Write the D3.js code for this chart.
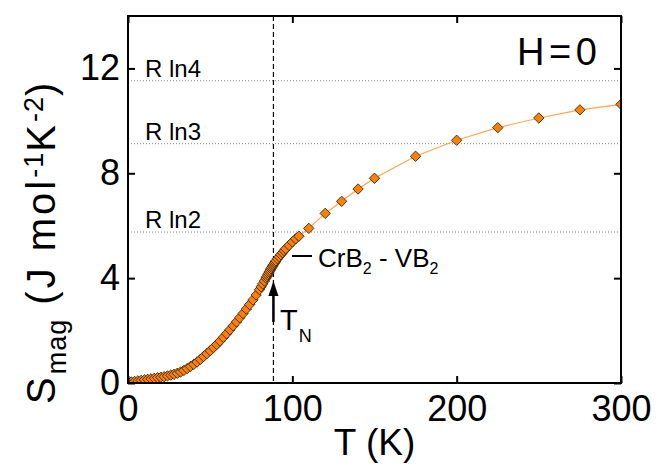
<!DOCTYPE html>
<html>
<head>
<meta charset="utf-8">
<script src="https://cdn.jsdelivr.net/npm/d3@7"></script>
<style>
body { margin: 0; background: #fff; }
text { font-family: "Liberation Sans", Arial, Helvetica, sans-serif; fill: #000; }
</style>
</head>
<body>
<div id="chart"></div>
<script>
// CrB2-VB2 magnetic entropy, H = 0
const temps = [2,4,6,8,10,12,14,16,18,20,22,24,26,28,30,32,34,36,38,40,
    42,44,46,48,50,52,54,56,58,60,62,64,66,68,70,72,74,76,78,80,
    81,82,83,84,84.5,85,85.5,86,86.5,87,87.5,88,88.5,89,89.5,90,
    91,92,93,94,95,96,98,100,102,104,
    110,120,130,140,150,175,200,225,250,275,300];
const smag = [0.04,0.06,0.08,0.1,0.12,0.14,0.16,0.18,0.2,0.22,
    0.24,0.27,0.3,0.33,0.37,0.42,0.48,0.55,0.63,0.71,
    0.8,0.9,1.01,1.12,1.23,1.35,1.47,1.6,1.74,1.88,
    2.03,2.18,2.33,2.49,2.65,2.82,2.99,3.17,3.36,3.56,
    3.67,3.78,3.89,4.0,4.06,4.12,4.18,4.24,4.3,4.36,4.41,4.46,4.51,4.56,4.61,4.66,
    4.74,4.82,4.9,4.97,5.05,5.12,5.25,5.38,5.5,5.6,
    5.9,6.47,6.93,7.4,7.81,8.65,9.26,9.74,10.11,10.42,10.63];
const xTicks = [0, 100, 200, 300];
const yTicks = [0, 4, 8, 12];
const refLabels = ["R ln2", "R ln3", "R ln4"];
const refValues = [5.76, 9.13, 11.53];
const tN = 88.5;

const width = 664, height = 472;
const x0 = 128, x1 = 621, y0 = 383, y1 = 16;

const svg = d3.select("#chart").append("svg")
    .attr("width", width)
    .attr("height", height);

const x = d3.scaleLinear().domain([0, 300]).range([x0, x1]);
const y = d3.scaleLinear().domain([0, 14]).range([y0, y1]);

svg.append("clipPath").attr("id", "plotclip")
  .append("rect")
    .attr("x", x0).attr("y", y1)
    .attr("width", x1 - x0).attr("height", y0 - y1);

// reference levels
svg.selectAll(".ref")
    .data(refValues)
    .enter().append("line")
    .attr("x1", x0).attr("x2", x1)
    .attr("y1", d => y(d)).attr("y2", d => y(d))
    .attr("stroke", "#888")
    .attr("stroke-width", 1)
    .attr("stroke-dasharray", "1,2");

svg.selectAll(".reflabel")
    .data(refLabels)
    .enter().append("text")
    .attr("x", 145)
    .attr("y", (d, i) => y(refValues[i]) - 4)
    .attr("font-size", 24)
    .text(d => d);

// TN dashed line
svg.append("line")
    .attr("x1", x(tN)).attr("x2", x(tN))
    .attr("y1", y1).attr("y2", y0)
    .attr("stroke", "#000")
    .attr("stroke-width", 1.2)
    .attr("stroke-dasharray", "5,3");

const pts = temps.map((t, i) => [t, smag[i]]);
const plot = svg.append("g").attr("clip-path", "url(#plotclip)");

plot.append("path")
    .datum(pts)
    .attr("fill", "none")
    .attr("stroke", "#ffa54f")
    .attr("stroke-width", 1.2)
    .attr("d", d3.line().x(d => x(d[0])).y(d => y(d[1])));

plot.selectAll(".pt")
    .data(pts)
    .enter().append("path")
    .attr("transform", d => `translate(${x(d[0])},${y(d[1])}) rotate(45)`)
    .attr("d", d3.symbol().type(d3.symbolSquare).size(54))
    .attr("fill", "#ff8000")
    .attr("stroke", "#222")
    .attr("stroke-width", 0.8);

// axes, ticks pointing inward
let styleAxis = function(g, size){
    g.select(".domain").remove();
    g.selectAll("line").attr("stroke", "#000").attr("stroke-width", 2);
    g.selectAll("text").attr("font-size", size).attr("font-family", "Liberation Sans, Arial, sans-serif");
};

svg.append("g")
    .attr("transform", `translate(0,${y0})`)
    .call(d3.axisBottom(x).tickValues(xTicks).tickSize(-7).tickPadding(12))
    .call(g => styleAxis(g, 36));
svg.append("g")
    .attr("transform", `translate(0,${y1})`)
    .call(d3.axisTop(x).tickValues(xTicks).tickSize(-7).tickFormat(""))
    .call(g => styleAxis(g, 36));
svg.append("g")
    .attr("transform", `translate(${x0},0)`)
    .call(d3.axisLeft(y).tickValues(yTicks).tickSize(-7).tickPadding(8))
    .call(g => styleAxis(g, 36));
svg.append("g")
    .attr("transform", `translate(${x1},0)`)
    .call(d3.axisRight(y).tickValues(yTicks).tickSize(-7).tickFormat(""))
    .call(g => styleAxis(g, 36));

svg.append("rect")
    .attr("x", x0).attr("y", y1)
    .attr("width", x1 - x0).attr("height", y0 - y1)
    .attr("fill", "none")
    .attr("stroke", "#000")
    .attr("stroke-width", 2);

// axis titles
svg.append("text")
    .attr("x", (x0 + x1) / 2)
    .attr("y", 455)
    .attr("text-anchor", "middle")
    .attr("font-size", 37)
    .text("T (K)");

let ytitle = svg.append("text")
    .attr("transform", "translate(55,404) rotate(-90)")
    .attr("font-size", 40)
    .attr("letter-spacing", 3);
ytitle.append("tspan").text("S");
ytitle.append("tspan").attr("font-size", 27).attr("letter-spacing", 1).attr("dy", 11).text("mag");
ytitle.append("tspan").attr("dy", -11).text(" (J mol");
ytitle.append("tspan").attr("font-size", 27).attr("letter-spacing", 1).attr("dy", -12).text("-1");
ytitle.append("tspan").attr("dy", 12).text("K");
ytitle.append("tspan").attr("font-size", 27).attr("letter-spacing", 1).attr("dy", -12).text("-2");
ytitle.append("tspan").attr("dy", 12).text(")");

// annotations
svg.append("text")
    .attr("x", 597).attr("y", 65)
    .attr("text-anchor", "end")
    .attr("font-size", 38)
    .attr("word-spacing", -6)
    .text("H = 0");

svg.append("line")
    .attr("x1", 292).attr("x2", 312)
    .attr("y1", 256).attr("y2", 256)
    .attr("stroke", "#000").attr("stroke-width", 2);

let crb = svg.append("text")
    .attr("x", 318).attr("y", 267)
    .attr("font-size", 26);
crb.append("tspan").text("CrB");
crb.append("tspan").attr("font-size", 16).attr("dy", 7).text("2");
crb.append("tspan").attr("dy", -7).text(" - VB");
crb.append("tspan").attr("font-size", 16).attr("dy", 7).text("2");

svg.append("line")
    .attr("x1", x(tN)).attr("x2", x(tN))
    .attr("y1", 322).attr("y2", 292)
    .attr("stroke", "#000").attr("stroke-width", 2.5);
svg.append("path")
    .attr("d", `M${x(tN)},281 L${x(tN) - 5},296 L${x(tN) + 5},296 Z`)
    .attr("fill", "#000");

let tn = svg.append("text")
    .attr("x", 280).attr("y", 330)
    .attr("font-size", 29);
tn.append("tspan").text("T");
tn.append("tspan").attr("font-size", 18).attr("dy", 12).attr("dx", 1).text("N");
</script>
</body>
</html>
